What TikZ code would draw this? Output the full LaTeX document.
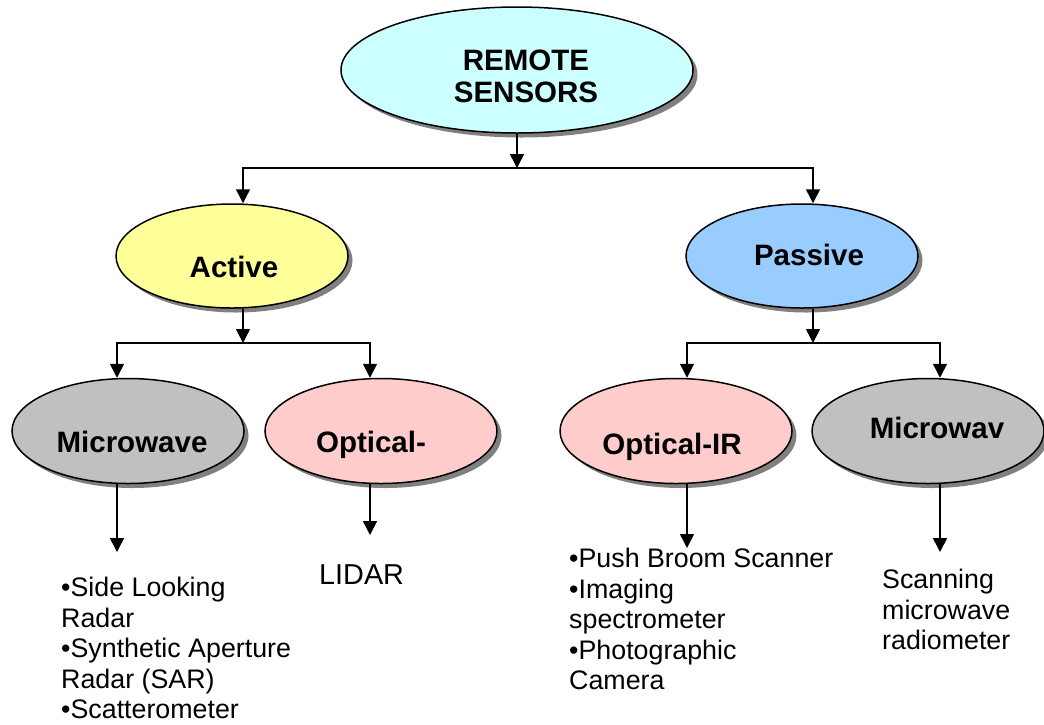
\documentclass[tikz,border=0pt]{standalone}
\usepackage{fontspec}
\setmainfont{Liberation Sans}
\usetikzlibrary{shapes.geometric,shadows,arrows.meta}
\definecolor{cRoot}{RGB}{204,255,255}
\definecolor{cAct}{RGB}{255,255,153}
\definecolor{cPas}{RGB}{153,204,255}
\definecolor{cMw}{RGB}{192,192,192}
\definecolor{cOpt}{RGB}{255,204,204}
\definecolor{cShad}{RGB}{128,128,128}
\begin{document}
\begin{tikzpicture}[x=1pt,y=-1pt,
  ell/.style={ellipse,draw=black,line width=1.5pt,inner sep=0pt,
    minimum width=232pt,minimum height=105pt,
    drop shadow={shadow xshift=4.5pt,shadow yshift=-4.5pt,fill=cShad,opacity=1}},
  lbl/.style={font=\fontsize{29.5}{32}\selectfont\bfseries,inner sep=0pt,text depth=0pt,align=center},
  body/.style={font=\fontsize{26.8}{30.5}\selectfont,inner sep=0pt,align=left},
  arr/.style={line width=1.5pt,-{Triangle[length=14pt,width=14pt]}},
  ln/.style={line width=1.5pt}]
\fill[white] (0,0) rectangle (1044,724);
\useasboundingbox (0,0) rectangle (1044,724);

% ellipses
\node[ell,fill=cRoot,minimum width=352pt,minimum height=126pt] (top) at (517,70) {};
\node[ell,fill=cAct,minimum height=104pt] (active) at (232,256) {};
\node[ell,fill=cPas,minimum height=104pt] (passive) at (802,256) {};
\node[ell,fill=cMw] (mw1) at (128,431) {};
\node[ell,fill=cOpt] (opt1) at (381,431) {};
\node[ell,fill=cOpt] (opt2) at (676,431) {};
\node[ell,fill=cMw] (mw2) at (928,431) {};

% labels
\node[lbl] (topT) at (526,76) {REMOTE\\SENSORS};
\node[lbl] (activeT) at (234,267) {Active};
\node[lbl] (passiveT) at (809,255) {Passive};
\node[lbl] (mw1T) at (132,442) {Microwave};
\node[lbl] (opt1T) at (371,442) {Optical-};
\node[lbl] (opt2T) at (672,444) {Optical-IR};
\node[lbl] (mw2T) at (937,428) {Microwav};

% junctions and ends
\coordinate (j0) at (517,168);
\coordinate (j1) at (243,343);
\coordinate (j2) at (813,343);
\coordinate (e1) at (117,552);
\coordinate (e2) at (370,535);
\coordinate (e3) at (687,548);
\coordinate (e4) at (940,552);

% connectors
\draw[arr] (top.south) -- (j0);
\draw[arr] (j0) -| (active.north -| j1);
\draw[arr] (j0) -| (passive.north -| j2);
\draw[arr] (active.south -| j1) -- (j1);
\draw[arr] (passive.south -| j2) -- (j2);
\draw[arr] (j1) -| (mw1.north -| e1);
\draw[arr] (j1) -| (opt1.north -| e2);
\draw[arr] (j2) -| (opt2.north -| e3);
\draw[arr] (j2) -| (mw2.north -| e4);
\draw[arr] (mw1.south -| e1) -- (e1);
\draw[arr] (opt1.south -| e2) -- (e2);
\draw[arr] (opt2.south -| e3) -- (e3);
\draw[arr] (mw2.south -| e4) -- (e4);

% body texts
\node[body,anchor=north west] (list1) at (61,577) {•Side Looking\\Radar\\•Synthetic Aperture\\Radar (SAR)\\•Scatterometer};
\node[body,anchor=base west,font=\fontsize{28.8}{32}\selectfont] (lidar) at (319,584) {LIDAR};
\node[body,anchor=north west] (list2) at (569,548) {•Push Broom Scanner\\•Imaging\\spectrometer\\•Photographic\\Camera};
\node[body,anchor=north west] (list3) at (882,569) {Scanning\\microwave\\radiometer};
\end{tikzpicture}
\end{document}
